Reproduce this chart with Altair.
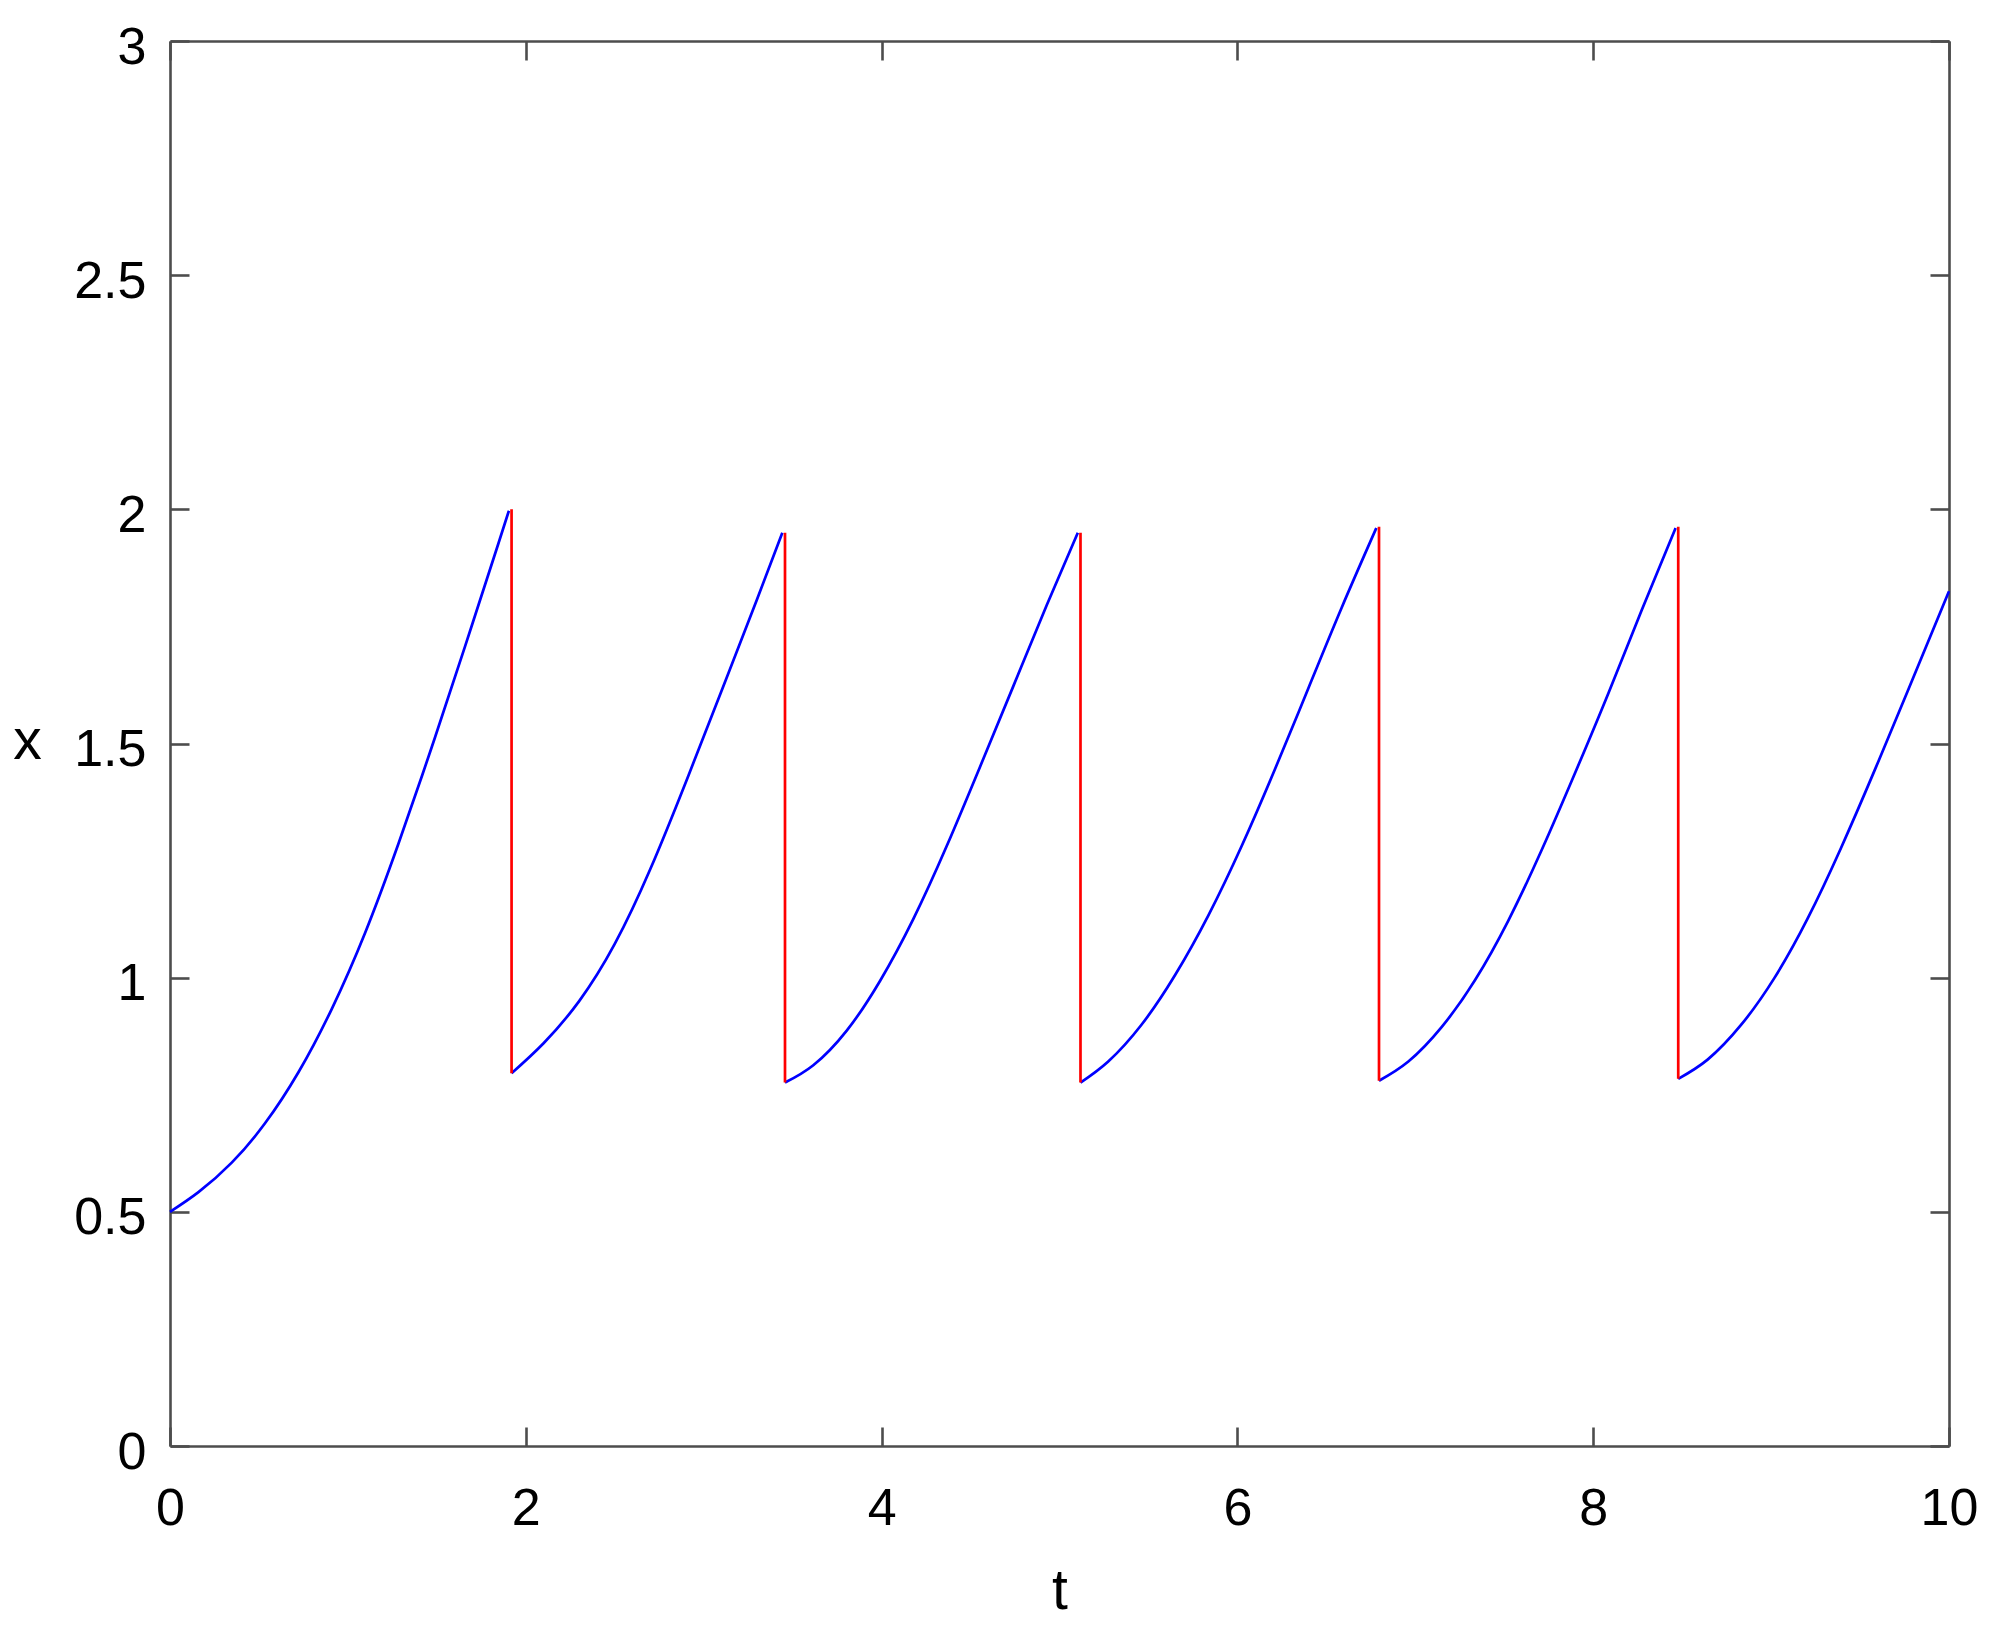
import altair as alt
import pandas as pd

# ---- data ----
seg1_t = [0.0, 0.16, 0.347, 0.534, 0.722, 0.909, 1.097, 1.284, 1.471, 1.659, 1.846, 1.905]
seg1_x = [0.5, 0.542, 0.605, 0.689, 0.798, 0.933, 1.096, 1.286, 1.492, 1.708, 1.927, 1.997]

seg2_t = [1.92, 2.10, 2.30, 2.50, 2.70, 2.90, 3.10, 3.30, 3.442]
seg2_x = [0.796, 0.860, 0.950, 1.072, 1.232, 1.418, 1.612, 1.808, 1.950]

seg3_t = [3.457, 3.616, 3.804, 3.991, 4.178, 4.366, 4.553, 4.740, 4.928, 5.103]
seg3_x = [0.776, 0.813, 0.887, 0.993, 1.125, 1.281, 1.450, 1.622, 1.795, 1.950]

seg4_t = [5.118, 5.274, 5.462, 5.649, 5.837, 6.024, 6.211, 6.399, 6.586, 6.781]
seg4_x = [0.776, 0.821, 0.900, 1.005, 1.133, 1.281, 1.445, 1.618, 1.790, 1.960]

seg5_t = [6.796, 6.961, 7.149, 7.336, 7.523, 7.711, 7.898, 8.086, 8.273, 8.463]
seg5_x = [0.780, 0.821, 0.895, 0.995, 1.122, 1.273, 1.437, 1.608, 1.785, 1.960]

seg6_t = [8.478, 8.643, 8.831, 9.018, 9.205, 9.393, 9.580, 9.768, 10.0]
seg6_x = [0.784, 0.825, 0.899, 0.999, 1.126, 1.277, 1.441, 1.612, 1.825]

jump_t = [1.92, 3.457, 5.118, 6.796, 8.478]
jump_top = [2.0, 1.950, 1.950, 1.963, 1.963]
jump_bottom = [0.796, 0.776, 0.776, 0.780, 0.784]

x_ticks = [0, 2, 4, 6, 8, 10]
y_ticks = [0, 0.5, 1, 1.5, 2, 2.5, 3]

# ---- tables ----
segments = [(seg1_t, seg1_x), (seg2_t, seg2_x), (seg3_t, seg3_x),
            (seg4_t, seg4_x), (seg5_t, seg5_x), (seg6_t, seg6_x)]
rows = []
for i, (ts, xs) in enumerate(segments):
    for t, v in zip(ts, xs):
        rows.append({"seg": i, "t": t, "x": v})
lines_df = pd.DataFrame(rows)
jumps_df = pd.DataFrame({"t": jump_t, "top": jump_top, "bottom": jump_bottom})

W, H = 1779, 1405
FONT = "Liberation Sans"
AX = "#4d4d4d"
AXW = 2.6
TICK = 19

xscale = alt.Scale(domain=[0, 10], nice=False, zero=False)
yscale = alt.Scale(domain=[0, 3], nice=False, zero=False)

# axes carrying labels, titles and the bottom/left frame lines
x_lab = alt.Axis(orient="bottom", values=x_ticks, format="d", ticks=False, tickSize=0,
                 domain=True, domainColor=AX, domainWidth=AXW, grid=False,
                 labelFont=FONT, labelFontSize=52, labelColor="#000000",
                 labelBaseline="alphabetic", labelPadding=78, labelAlign="center",
                 labelFlush=False, labelOverlap=False,
                 title="t", titleFont=FONT, titleFontSize=57, titleFontWeight="normal",
                 titleColor="#000000", titleBaseline="alphabetic", titleAlign="center",
                 titleX=W / 2, titleY=162)
y_lab = alt.Axis(orient="left", values=y_ticks, format="~g", ticks=False, tickSize=0,
                 domain=True, domainColor=AX, domainWidth=AXW, grid=False,
                 labelFont=FONT, labelFontSize=52, labelColor="#000000",
                 labelBaseline="alphabetic", labelOffset=22, labelPadding=24, labelAlign="right",
                 labelFlush=False, labelOverlap=False,
                 title="x", titleFont=FONT, titleFontSize=57, titleFontWeight="normal",
                 titleColor="#000000", titleBaseline="alphabetic", titleAlign="center",
                 titleAngle=0, titleX=-143, titleY=717)

# inward ticks on the bottom / left edges
x_in_bottom = alt.Axis(orient="top", offset=-H, values=x_ticks, labels=False, domain=False,
                       ticks=True, tickSize=TICK, tickColor=AX, tickWidth=AXW, grid=False, title=None)
y_in_left = alt.Axis(orient="right", offset=-W, values=y_ticks, labels=False, domain=False,
                     ticks=True, tickSize=TICK, tickColor=AX, tickWidth=AXW, grid=False, title=None)

# inward ticks + frame lines on the top / right edges
x_in_top = alt.Axis(orient="bottom", offset=-H, values=x_ticks, labels=False, domain=True,
                    domainColor=AX, domainWidth=AXW,
                    ticks=True, tickSize=TICK, tickColor=AX, tickWidth=AXW, grid=False, title=None)
y_in_right = alt.Axis(orient="left", offset=-W, values=y_ticks, labels=False, domain=True,
                      domainColor=AX, domainWidth=AXW,
                      ticks=True, tickSize=TICK, tickColor=AX, tickWidth=AXW, grid=False, title=None)

lines = alt.Chart(lines_df).mark_line(color="#0000ff", strokeWidth=2.7, interpolate="natural").encode(
    x=alt.X("t:Q", scale=xscale, axis=x_lab),
    y=alt.Y("x:Q", scale=yscale, axis=y_lab),
    detail="seg:N",
)

jumps = alt.Chart(jumps_df).mark_rule(color="#ff0000", strokeWidth=2.7).encode(
    x=alt.X("t:Q", scale=xscale, axis=x_in_bottom),
    y=alt.Y("top:Q", scale=yscale, axis=y_in_left),
    y2="bottom:Q",
)

frame = alt.Chart(jumps_df).mark_point(opacity=0).encode(
    x=alt.X("t:Q", scale=xscale, axis=x_in_top),
    y=alt.Y("top:Q", scale=yscale, axis=y_in_right),
)

chart = alt.layer(lines, jumps, frame).resolve_axis(
    x="independent", y="independent"
).properties(
    width=W, height=H,
    autosize=alt.AutoSizeParams(type="none"),
    padding={"left": 162, "top": 33, "right": 40, "bottom": 185},
    background="#ffffff",
).configure_view(strokeOpacity=0)

chart.save("out.html", embed_options={"renderer": "svg", "actions": False})
